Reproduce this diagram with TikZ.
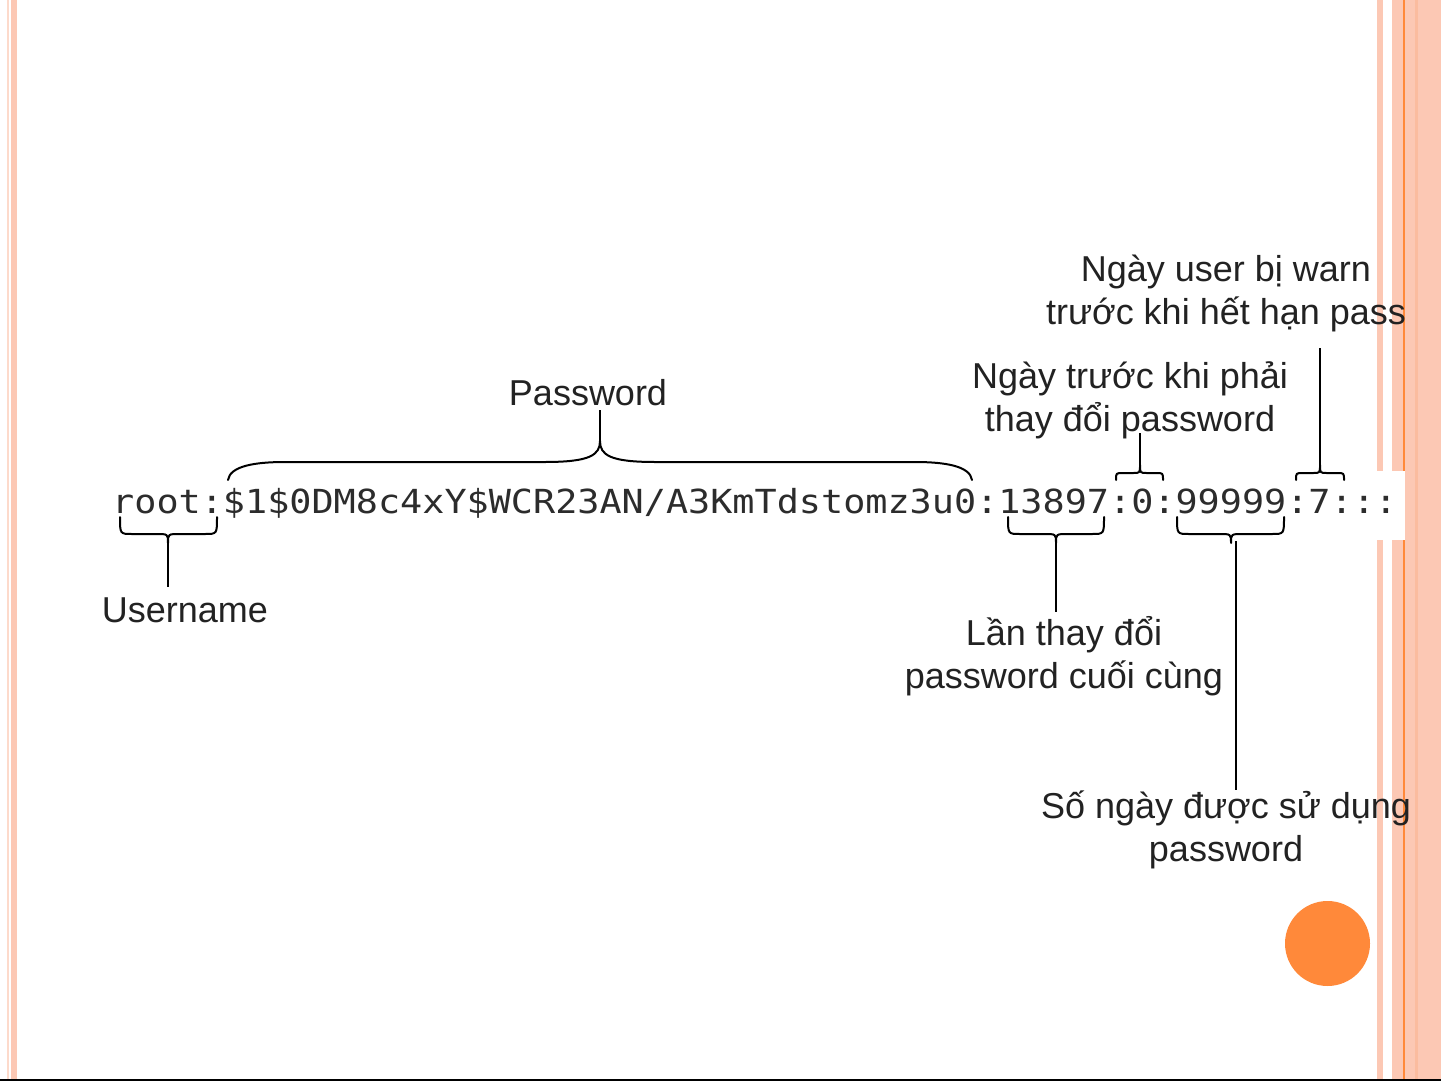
\documentclass[tikz,border=0pt]{standalone}
\usepackage{graphicx}
\usepackage{fontspec}
\setmainfont{Liberation Sans}
\newfontfamily\monof{DejaVu Sans Mono}
\definecolor{salmon}{HTML}{FCC8B4}
\definecolor{salmonpale}{HTML}{FDDACB}
\definecolor{salmondk}{HTML}{FBBC9F}
\definecolor{orangec}{HTML}{FF893A}
\definecolor{txtc}{HTML}{222222}
\definecolor{strc}{HTML}{2C2C2C}
\begin{document}
\begin{tikzpicture}[x=1pt,y=-1pt,
  lbl/.style={font=\fontsize{36}{43}\selectfont, text=txtc, align=center, inner sep=0pt},
  bracepath/.style={line width=2pt, draw=black, line join=round, line cap=round},
  stemline/.style={line width=2pt, draw=black}]
\useasboundingbox (0,0) rectangle (1441,1081);
\fill[white] (0,0) rectangle (1441,1081);
% border stripes
\fill[salmonpale] (7,0) rectangle (9.3,1081);
\fill[salmon] (11,0) rectangle (16.8,1081);
\fill[salmon] (1377,0) rectangle (1383,1081);
\fill[salmon] (1392,0) rectangle (1441,1081);
\fill[salmondk] (1415,0) rectangle (1418,1081);
\fill[orangec] (1403,0) rectangle (1405.3,1081);
% white band behind the line of text
\fill[white] (100,471) rectangle (1405,540);
% bottom rule and circle
\fill[black] (0,1078.8) rectangle (1441,1081);
\fill[orangec] (1327.5,943.5) circle[radius=42.5];

% the shadow line
\node[anchor=base west, inner sep=0pt, text=strc,
  font=\monof\fontsize{36.8}{44}\selectfont] (str) at (112,513.5)
  {\scalebox{1}[0.9]{root:\$1\$0DM8c4xY\$WCR23AN/A3KmTdstomz3u0:13897:0:99999:7:::}};

% labels
\node[lbl] (warn) at (1226,293) {Ngày user bị warn\\trước khi hết hạn pass};
\node[lbl] (change) at (1130,400) {Ngày trước khi phải\\thay đổi password};
\node[lbl, anchor=base] (pw) at (588,405) {Password};
\node[lbl, anchor=base] (user) at (185,622) {Username};
\node[lbl] (last) at (1064,656) {Lần thay đổi\\password cuối cùng};
\node[lbl] (days) at (1226,830) {Số ngày được sử dụng\\password};

% brace cusps and stem ends
\coordinate (ucusp) at (168,543);
\coordinate (uend) at (168,587);
\coordinate (pcusp) at (600,441);
\coordinate (pend) at (600,410);
\coordinate (lcusp) at (1056,543);
\coordinate (lend) at (1056,612);
\coordinate (ccusp) at (1140,465);
\coordinate (cend) at (1140,433);
\coordinate (dcusp) at (1231,543);
\coordinate (dtop) at (1236,541);
\coordinate (dend) at (1236,790);
\coordinate (wcusp) at (1320,465);
\coordinate (wend) at (1320,348);

% Username brace
\draw[bracepath] (120,517) .. controls (120,534) .. (132,534) -- (156,534)
  .. controls (168,534) .. (ucusp) .. controls (168,534) .. (180,534) -- (205,534)
  .. controls (217,534) .. (217,517);
\draw[stemline] (ucusp) -- (uend);
% Password brace
\draw[bracepath] (228,480) .. controls (230,466) and (255,462) .. (285,462) -- (545,462)
  .. controls (590,462) and (600,455) .. (pcusp)
  .. controls (600,455) and (610,462) .. (655,462) -- (915,462)
  .. controls (945,462) and (970,466) .. (972,480);
\draw[stemline] (pcusp) -- (pend);
% 13897 brace
\draw[bracepath] (1008,517) .. controls (1008,534) .. (1020,534) -- (1044,534)
  .. controls (1056,534) .. (lcusp) .. controls (1056,534) .. (1068,534) -- (1092,534)
  .. controls (1104,534) .. (1104,517);
\draw[stemline] (lcusp) -- (lend);
% 0 brace
\draw[bracepath] (1116,480) .. controls (1116,473) .. (1123,473) -- (1133,473)
  .. controls (1140,473) .. (ccusp) .. controls (1140,473) .. (1147,473) -- (1156,473)
  .. controls (1163,473) .. (1163,480);
\draw[stemline] (ccusp) -- (cend);
% 99999 brace
\draw[bracepath] (1177,517) .. controls (1177,534) .. (1189,534) -- (1219,534)
  .. controls (1231,534) .. (dcusp) .. controls (1231,534) .. (1243,534) -- (1272,534)
  .. controls (1284,534) .. (1284,517);
\draw[stemline] (dtop) -- (dend);
% 7 brace
\draw[bracepath] (1296,480) .. controls (1296,473) .. (1303,473) -- (1313,473)
  .. controls (1320,473) .. (wcusp) .. controls (1320,473) .. (1327,473) -- (1337,473)
  .. controls (1344,473) .. (1344,480);
\draw[stemline] (wcusp) -- (wend);
\end{tikzpicture}
\end{document}
